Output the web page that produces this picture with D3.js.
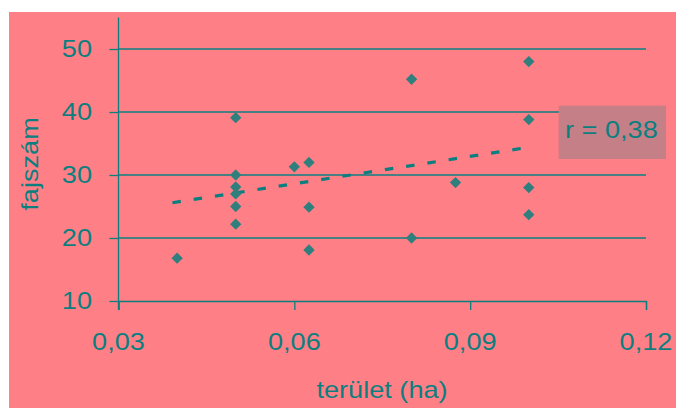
<!DOCTYPE html>
<html><head><meta charset="utf-8">
<script src="https://cdn.jsdelivr.net/npm/d3@7"></script>
<style>body{margin:0;background:#fff}svg{display:block}text{font-family:"Liberation Sans",Arial,sans-serif}</style>
</head><body>
<script>
// data
const areaHa = [0.04, 0.05, 0.05, 0.05, 0.05, 0.05, 0.05, 0.06, 0.0625, 0.0625, 0.0625, 0.08, 0.08, 0.0875, 0.1, 0.1, 0.1, 0.1];
const speciesCount = [16.8, 39.1, 30, 28.1, 27, 25, 22.2, 31.3, 32, 24.9, 18.1, 45.2, 20, 28.8, 48, 38.8, 28, 23.7];
const trendX = [0.0392, 0.1];
const trendY = [25.6, 34.4];
const xTicks = [0.03, 0.06, 0.09, 0.12];
const yTicks = [10, 20, 30, 40, 50];
const rLabel = "r = 0,38";
const xTitle = "terület (ha)";
const yTitle = "fajszám";

const W = 676, H = 408;
const PINK = "#FF7F86", TEAL = "#0B7F80", MARK = "#2E7F7E", BOX = "#C47F87";
const SX = 1.18, FS = 23;
const fmt = d => d3.format(".2f")(d).replace(".", ",");

const svg = d3.select("body").append("svg").attr("width", W).attr("height", H);
svg.append("rect").attr("x", 9).attr("y", 12).attr("width", W - 9).attr("height", H - 12).attr("fill", PINK);

const x = d3.scaleLinear().domain([0.03, 0.12]).range([118.5, 646]);
const y = d3.scaleLinear().domain([10, 55]).range([301, 17.5]);

// grid lines
svg.append("g").selectAll("line").data(yTicks.filter(d => d > 10)).join("line")
  .attr("x1", x(0.03)).attr("x2", x(0.12)).attr("y1", d => y(d)).attr("y2", d => y(d))
  .attr("stroke", TEAL).attr("stroke-width", 1.3);

// axes
const gx = svg.append("g").attr("transform", `translate(0,${y(10)})`)
  .call(d3.axisBottom(x).tickValues(xTicks).tickSize(9).tickFormat(""));
const gy = svg.append("g").attr("transform", `translate(${x(0.03)},0)`)
  .call(d3.axisLeft(y).tickValues(yTicks).tickSize(9).tickFormat(""));
[gx, gy].forEach(g => {
  g.select(".domain").attr("stroke", TEAL).attr("stroke-width", 1.3);
  g.selectAll(".tick line").attr("stroke", TEAL).attr("stroke-width", 1.3);
});
gy.select(".domain").attr("d", `M0,${y(10) + 9}V${y(55)}`);

// tick labels
svg.append("g").selectAll("text").data(xTicks).join("text")
  .attr("transform", d => `translate(${x(d)},350) scale(${SX},1)`)
  .attr("text-anchor", "middle").attr("font-size", FS).attr("fill", TEAL).text(fmt);
svg.append("g").selectAll("text").data(yTicks).join("text")
  .attr("transform", d => `translate(92,${y(d) + 7.5}) scale(${SX},1)`)
  .attr("text-anchor", "end").attr("font-size", FS).attr("fill", TEAL).text(d => d);

// titles
svg.append("text").attr("transform", `translate(382,397.5) scale(${SX},1)`)
  .attr("text-anchor", "middle").attr("font-size", FS).attr("fill", TEAL).text(xTitle);
svg.append("text").attr("transform", `translate(37.5,164) rotate(-90) scale(${SX},1)`)
  .attr("text-anchor", "middle").attr("font-size", FS).attr("fill", TEAL).text(yTitle);

// trend line
svg.append("path").datum(d3.zip(trendX, trendY))
  .attr("d", d3.line().x(d => x(d[0])).y(d => y(d[1])))
  .attr("fill", "none").attr("stroke", TEAL).attr("stroke-width", 3.2).attr("stroke-dasharray", "8.5,13");

// points
const diamond = d3.symbol().type(d3.symbolSquare).size(64);
svg.append("g").selectAll("path").data(d3.zip(areaHa, speciesCount)).join("path")
  .attr("d", diamond)
  .attr("transform", d => `translate(${x(d[0])},${y(d[1])}) rotate(45)`)
  .attr("fill", MARK);

// r box
svg.append("rect").attr("x", 558.7).attr("y", 105.7).attr("width", 107.3).attr("height", 53.3).attr("fill", BOX);
svg.append("text").attr("transform", `translate(565,137.5) scale(${SX},1)`)
  .attr("font-size", FS).attr("fill", TEAL).text(rLabel);
</script>
</body></html>
